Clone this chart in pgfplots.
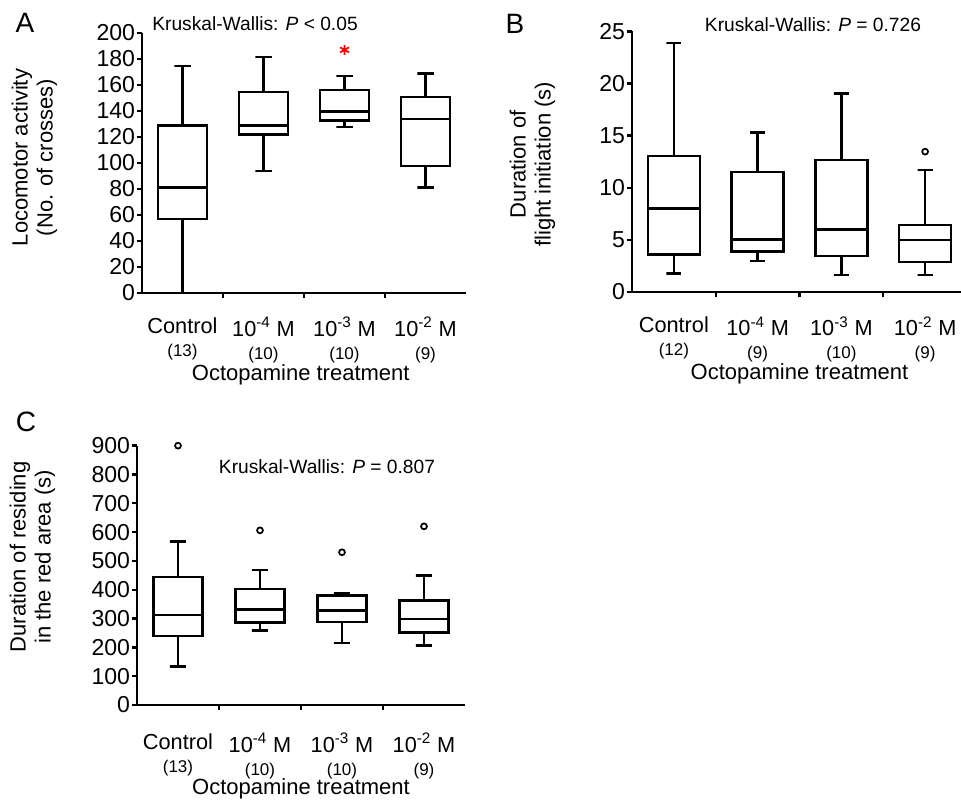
\documentclass[border=0pt]{standalone}
\usepackage{fontspec}
\setmainfont{Liberation Sans}
\usepackage{pgfplots}
\pgfplotsset{compat=1.18}
\newcommand\nfs{\fontsize{12.75}{15}\selectfont}
\pgfplotsset{
 panel/.style={
   scale only axis, axis lines*=left, xmin=0.5, xmax=4.5, ymin=0, clip=false,
   axis line style={line width=1.8pt},
   tick style={line width=1.8pt, black},
   tick align=outside, major tick length=4pt,
   xtick={1.5,2.5,3.5}, xticklabels={},
   extra x ticks={1,2,3,4}, extra x tick style={major tick length=0pt},
   xticklabel style={font=\fontsize{16.3}{17.25}\selectfont, align=center, anchor=north, inner sep=0pt},
   yticklabel style={font=\fontsize{17.3}{18}\selectfont, anchor=east, inner sep=0pt},
   /pgf/number format/assume math mode=true,
   ylabel style={font=\fontsize{16.5}{18.75}\selectfont, align=center, anchor=south},
   xlabel style={font=\fontsize{16.5}{18}\selectfont, anchor=base},
   xlabel={Octopamine treatment},
 },
 ln/.style={black, solid, line width=1.8pt, mark=none, line join=miter},
 outl/.style={black, only marks, mark=o, mark size=2.2pt, mark options={line width=1.3pt, solid, fill=none}},
}
\begin{document}
\begin{tikzpicture}
\path[use as bounding box] (0,0) rectangle (720.75pt,600pt);
% Panel A
\begin{axis}[panel, at={(106.5pt,380.25pt)}, anchor=south west, width=243pt, height=195pt,
  ymax=200, ytick={0,20,...,200},
  extra x tick labels={{Control\\\nfs (13)},{10\textsuperscript{-4} M\\\nfs (10)},{10\textsuperscript{-3} M\\\nfs (10)},{10\textsuperscript{-2} M\\\nfs (9)}},
  ylabel={Locomotor activity\\(No. of crosses)},
  ylabel style={at={(axis description cs:-0.247,0.521)}},
  xlabel style={at={(axis description cs:0.49,-0.335)}},
  xticklabel style={yshift=-18pt},
  yticklabel style={xshift=-1pt}]
% Control
\addplot[ln] coordinates {(0.7,56.7) (1.3,56.7) (1.3,128.7) (0.7,128.7)} -- cycle;
\addplot[ln] coordinates {(0.7,81.3) (1.3,81.3)};
\addplot[ln] coordinates {(1,128.7) (1,174.6) (0.9,174.6) (1.1,174.6)};
\addplot[ln] coordinates {(1,56.7) (1,0)};
% 10^-4
\addplot[ln] coordinates {(1.7,122) (2.3,122) (2.3,154.4) (1.7,154.4)} -- cycle;
\addplot[ln] coordinates {(1.7,128.7) (2.3,128.7)};
\addplot[ln] coordinates {(2,154.4) (2,181.5) (1.9,181.5) (2.1,181.5)};
\addplot[ln] coordinates {(2,122) (2,93.8) (1.9,93.8) (2.1,93.8)};
% 10^-3
\addplot[ln] coordinates {(2.7,132.6) (3.3,132.6) (3.3,156) (2.7,156)} -- cycle;
\addplot[ln] coordinates {(2.7,139.5) (3.3,139.5)};
\addplot[ln] coordinates {(3,156) (3,166.7) (2.9,166.7) (3.1,166.7)};
\addplot[ln] coordinates {(3,132.6) (3,127.7) (2.9,127.7) (3.1,127.7)};
% 10^-2
\addplot[ln] coordinates {(3.7,97.7) (4.3,97.7) (4.3,150.8) (3.7,150.8)} -- cycle;
\addplot[ln] coordinates {(3.7,133.8) (4.3,133.8)};
\addplot[ln] coordinates {(4,150.8) (4,168.7) (3.9,168.7) (4.1,168.7)};
\addplot[ln] coordinates {(4,97.7) (4,81.3) (3.9,81.3) (4.1,81.3)};
\addplot[only marks, mark=asterisk, mark size=3.8pt, red, mark options={line width=1.3pt}] coordinates {(3,187)};
\end{axis}
% Panel B
\begin{axis}[panel, at={(474pt,381pt)}, anchor=south west, width=251.25pt, height=195.5pt,
  ymax=25, ytick={0,5,...,25},
  extra x tick labels={{Control\\\nfs (12)},{10\textsuperscript{-4} M\\\nfs (9)},{10\textsuperscript{-3} M\\\nfs (10)},{10\textsuperscript{-2} M\\\nfs (9)}},
  ylabel={Duration of\\flight initiation (s)},
  ylabel style={at={(axis description cs:-0.215,0.49)}},
  xlabel style={at={(axis description cs:0.5,-0.3376)}},
  xticklabel style={yshift=-18.5pt},
  yticklabel style={xshift=-1pt}]
% Control
\addplot[ln] coordinates {(0.69,3.58) (1.31,3.58) (1.31,13.04) (0.69,13.04)} -- cycle;
\addplot[ln] coordinates {(0.69,7.99) (1.31,7.99)};
\addplot[ln] coordinates {(1,13.04) (1,23.9) (0.91,23.9) (1.09,23.9)};
\addplot[ln] coordinates {(1,3.58) (1,1.79) (0.91,1.79) (1.09,1.79)};
% 10^-4
\addplot[ln] coordinates {(1.69,3.9) (2.31,3.9) (2.31,11.48) (1.69,11.48)} -- cycle;
\addplot[ln] coordinates {(1.69,5.05) (2.31,5.05)};
\addplot[ln] coordinates {(2,11.48) (2,15.28) (1.91,15.28) (2.09,15.28)};
\addplot[ln] coordinates {(2,3.9) (2,2.97) (1.91,2.97) (2.09,2.97)};
% 10^-3
\addplot[ln] coordinates {(2.69,3.45) (3.31,3.45) (3.31,12.66) (2.69,12.66)} -- cycle;
\addplot[ln] coordinates {(2.69,6.01) (3.31,6.01)};
\addplot[ln] coordinates {(3,12.66) (3,19.05) (2.91,19.05) (3.09,19.05)};
\addplot[ln] coordinates {(3,3.45) (3,1.63) (2.91,1.63) (3.09,1.63)};
% 10^-2
\addplot[ln] coordinates {(3.69,2.88) (4.31,2.88) (4.31,6.43) (3.69,6.43)} -- cycle;
\addplot[ln] coordinates {(3.69,4.96) (4.31,4.96)};
\addplot[ln] coordinates {(4,6.43) (4,11.7) (3.91,11.7) (4.09,11.7)};
\addplot[ln] coordinates {(4,2.88) (4,1.63) (3.91,1.63) (4.09,1.63)};
\addplot[outl] coordinates {(4,13.46)};
\end{axis}
% Panel C
\begin{axis}[panel, at={(102.75pt,71.25pt)}, anchor=south west, width=246pt, height=194.5pt,
  ymax=900, ytick={0,100,...,900},
  extra x tick labels={{Control\\\nfs (13)},{10\textsuperscript{-4} M\\\nfs (10)},{10\textsuperscript{-3} M\\\nfs (10)},{10\textsuperscript{-2} M\\\nfs (9)}},
  ylabel={Duration of residing\\in the red area (s)},
  ylabel style={at={(axis description cs:-0.235,0.571)}},
  xlabel style={at={(axis description cs:0.5,-0.347)}},
  xticklabel style={yshift=-21pt},
  yticklabel style={xshift=-1pt}]
% Control
\addplot[ln] coordinates {(0.7,239.5) (1.3,239.5) (1.3,445) (0.7,445)} -- cycle;
\addplot[ln] coordinates {(0.7,312) (1.3,312)};
\addplot[ln] coordinates {(1,445) (1,568) (0.9,568) (1.1,568)};
\addplot[ln] coordinates {(1,239.5) (1,133) (0.9,133) (1.1,133)};
% 10^-4
\addplot[ln] coordinates {(1.7,285.7) (2.3,285.7) (2.3,402.6) (1.7,402.6)} -- cycle;
\addplot[ln] coordinates {(1.7,331) (2.3,331)};
\addplot[ln] coordinates {(2,402.6) (2,468.5) (1.9,468.5) (2.1,468.5)};
\addplot[ln] coordinates {(2,285.7) (2,258) (1.9,258) (2.1,258)};
% 10^-3
\addplot[ln] coordinates {(2.7,288) (3.3,288) (3.3,379.4) (2.7,379.4)} -- cycle;
\addplot[ln] coordinates {(2.7,328.5) (3.3,328.5)};
\addplot[ln] coordinates {(3,379.4) (3,387.5) (2.9,387.5) (3.1,387.5)};
\addplot[ln] coordinates {(3,288) (3,216) (2.9,216) (3.1,216)};
% 10^-2
\addplot[ln] coordinates {(3.7,251) (4.3,251) (4.3,363) (3.7,363)} -- cycle;
\addplot[ln] coordinates {(3.7,298.5) (4.3,298.5)};
\addplot[ln] coordinates {(4,363) (4,449) (3.9,449) (4.1,449)};
\addplot[ln] coordinates {(4,251) (4,207) (3.9,207) (4.1,207)};
\addplot[outl] coordinates {(1,900) (2,606) (3,530) (4,620)};
\end{axis}
% Panel letters and test annotations
\node[font=\fontsize{21}{24}\selectfont] at (18.75pt,582.75pt) {A};
\node[font=\fontsize{21}{24}\selectfont] at (386.25pt,582pt) {B};
\node[font=\fontsize{21}{24}\selectfont] at (19.5pt,283.5pt) {C};
\node[font=\fontsize{14.4}{16}\selectfont] at (191.25pt,582pt) {Kruskal-Wallis: \textit{P} < 0.05};
\node[font=\fontsize{14.4}{16}\selectfont] at (609.75pt,581.25pt) {Kruskal-Wallis: \textit{P} = 0.726};
\node[font=\fontsize{14.4}{16}\selectfont] at (245.25pt,249.75pt) {Kruskal-Wallis: \textit{P} = 0.807};
\end{tikzpicture}
\end{document}
